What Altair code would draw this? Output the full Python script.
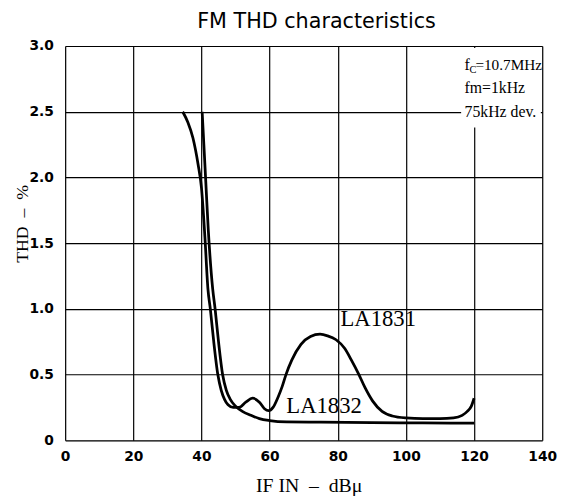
import altair as alt
import pandas as pd

# ---- data ----
la1831_x = [34.5, 36, 37.5, 39, 40, 41, 41.9, 42.6, 43.6, 44.8, 45.8, 46.8, 47.8, 49.3, 51, 53, 55, 57,
            58.5, 59.7, 61, 62.5, 63.7, 64.8, 66.5, 69.2, 72, 74.8, 77, 79.5, 82, 84, 86.2, 88, 90.2,
            93, 96, 100, 105, 110, 114, 116.5, 118, 119.2, 120]
la1831_y = [2.5, 2.42, 2.3, 2.1, 1.92, 1.55, 1.15, 1.0, 0.75, 0.5, 0.38, 0.31, 0.27, 0.25, 0.25, 0.29, 0.32, 0.29,
            0.24, 0.225, 0.25, 0.33, 0.41, 0.5, 0.61, 0.73, 0.79, 0.807, 0.795, 0.765, 0.70, 0.61, 0.5, 0.4, 0.3,
            0.22, 0.185, 0.17, 0.165, 0.165, 0.17, 0.19, 0.22, 0.26, 0.32]

la1832_x = [40.2, 40.7, 41.2, 42, 43.3, 44, 45, 46.2, 47.3, 48.5, 50, 52, 54.5, 57, 60, 65, 75, 90, 105, 120]
la1832_y = [2.5, 2.25, 2.0, 1.6, 1.15, 1.0, 0.75, 0.5, 0.38, 0.31, 0.26, 0.22, 0.19, 0.165, 0.15, 0.14, 0.138,
            0.135, 0.132, 0.13]

x_ticks = [0, 20, 40, 60, 80, 100, 120, 140]
y_ticks = [0, 0.5, 1.0, 1.5, 2.0, 2.5, 3.0]

series_labels = ["LA1831", "LA1832"]
label_x = [80.8, 64.9]
label_y = [0.925, 0.26]

box_lines = ["=10.7MHz", "fm=1kHz", "75kHz dev."]
box_x = 117.2
box_y = [2.82, 2.64, 2.46]

rows = [{"x": a, "y": b, "series": "LA1831"} for a, b in zip(la1831_x, la1831_y)]
rows += [{"x": a, "y": b, "series": "LA1832"} for a, b in zip(la1832_x, la1832_y)]
df = pd.DataFrame(rows)

xscale = alt.Scale(domain=[0, 140], nice=False, zero=False)
yscale = alt.Scale(domain=[0, 3.0], nice=False)

xaxis = alt.Axis(values=x_ticks, grid=True, gridColor="black", gridWidth=1.2, gridOpacity=1,
                 domain=False, ticks=False, labelFont="DejaVu Sans", labelFontWeight="bold",
                 labelFontSize=14, labelColor="black", labelPadding=10, labelFlush=False,
                 title="IF IN\u2002–\u2002dBμ", titleFont="Liberation Serif", titleFontSize=20,
                 titleFontWeight="normal", titleColor="black", titleX=247, titleY=52,
                 titleBaseline="alphabetic", titleAnchor="start", titleAlign="center")
yaxis = alt.Axis(values=y_ticks, grid=True, gridColor="black", gridWidth=1.2, gridOpacity=1,
                 domain=False, ticks=False, labelFont="DejaVu Sans", labelFontWeight="bold",
                 labelFontSize=14, labelColor="black", labelPadding=12, labelFlush=False,
                 labelExpr="datum.value == 0 ? '0' : format(datum.value, '.1f')",
                 title="THD\u2002–\u2002%", titleFont="Liberation Serif", titleFontSize=18,
                 titleFontWeight="normal", titleColor="black", titleX=-43, titleY=180,
                 titleAngle=270, titleAlign="center", titleBaseline="middle", titleAnchor="start")

lines = alt.Chart(df).mark_line(color="black", strokeWidth=2.8, interpolate="monotone").encode(
    x=alt.X("x:Q", scale=xscale, axis=xaxis),
    y=alt.Y("y:Q", scale=yscale, axis=yaxis),
    detail="series:N",
)

box_df = pd.DataFrame({"x": [116.2], "x2": [139.6], "y": [2.38], "y2": [2.985]})
box = alt.Chart(box_df).mark_rect(color="white").encode(x="x:Q", x2="x2:Q", y="y:Q", y2="y2:Q")

lab_df = pd.DataFrame({"t": series_labels, "x": label_x, "y": label_y})
labels = alt.Chart(lab_df).mark_text(font="Liberation Serif", fontSize=23, align="left",
                                     baseline="middle", color="black").encode(
    x="x:Q", y="y:Q", text="t:N")

f_df = pd.DataFrame({"t": ["f"], "x": [box_x], "y": [box_y[0]]})
fmark = alt.Chart(f_df).mark_text(font="Liberation Serif", fontSize=16, align="left",
                                  baseline="alphabetic", color="black").encode(x="x:Q", y="y:Q", text="t:N")
c_df = pd.DataFrame({"t": ["C"], "x": [box_x], "y": [box_y[0]]})
cmark = alt.Chart(c_df).mark_text(font="Liberation Serif", fontSize=10.5, align="left", dx=5, dy=3,
                                  baseline="alphabetic", color="black").encode(x="x:Q", y="y:Q", text="t:N")
b1_df = pd.DataFrame({"t": [box_lines[0]], "x": [box_x], "y": [box_y[0]]})
b1 = alt.Chart(b1_df).mark_text(font="Liberation Serif", fontSize=15.5, align="left", dx=11,
                                baseline="alphabetic", color="black").encode(x="x:Q", y="y:Q", text="t:N")
b2_df = pd.DataFrame({"t": box_lines[1:], "x": [box_x, box_x], "y": box_y[1:]})
b2 = alt.Chart(b2_df).mark_text(font="Liberation Serif", fontSize=16, align="left",
                                baseline="alphabetic", color="black").encode(x="x:Q", y="y:Q", text="t:N")

chart = alt.layer(box, lines, labels, fmark, cmark, b1, b2).properties(
    width=484, height=400,
    title=alt.TitleParams("FM THD characteristics", font="DejaVu Sans", fontSize=21,
                          fontWeight="normal", color="black", anchor="middle", offset=7, dx=13),
    autosize=alt.AutoSizeParams(type="none"),
    padding={"left": 58, "top": 35, "right": 16, "bottom": 58},
).configure_view(stroke="black", strokeWidth=2).configure(background="white")

chart.save("out.html", embed_options={"renderer": "svg", "actions": False})
